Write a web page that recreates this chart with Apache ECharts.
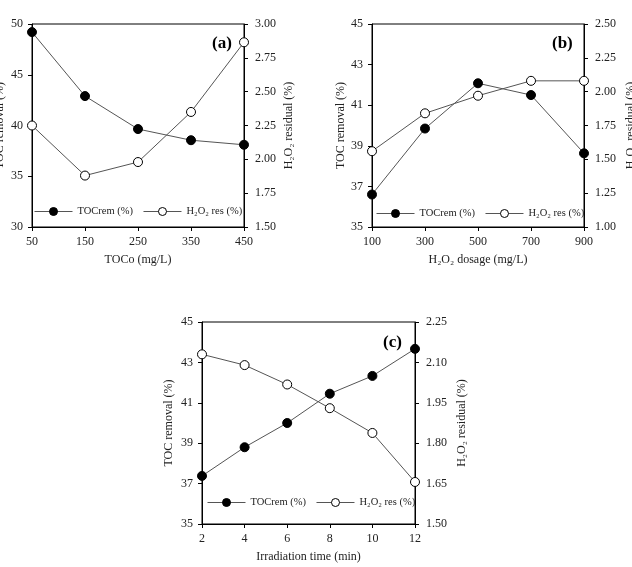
<!DOCTYPE html>
<html>
<head>
<meta charset="utf-8">
<script src="https://cdn.jsdelivr.net/npm/echarts@6/dist/echarts.min.js"></script>
<style>
  html, body { margin: 0; padding: 0; background: #fff; }
  #main { width: 632px; height: 567px; }
</style>
</head>
<body>
<div id="main"></div>
<script>
// (a) effect of initial TOC
const tocoLabels = ['50', '150', '250', '350', '450'];
const tocRemA = [49.2, 42.9, 39.65, 38.55, 38.1];
const h2o2ResA = [2.25, 1.88, 1.98, 2.35, 2.865];

// (b) effect of H2O2 dosage
const dosageLabels = ['100', '300', '500', '700', '900'];
const tocRemB = [36.6, 39.85, 42.08, 41.5, 38.63];
const h2o2ResB = [1.56, 1.84, 1.97, 2.08, 2.08];

// (c) effect of irradiation time
const timeLabels = ['2', '4', '6', '8', '10', '12'];
const tocRemC = [37.38, 38.8, 40.0, 41.45, 42.33, 43.67];
const h2o2ResC = [2.13, 2.09, 2.018, 1.93, 1.838, 1.656];

const FONT = '"Liberation Serif", "Times New Roman", serif';
const TOC_NAME = 'TOCrem (%)';
const RES_NAME = 'H₂O₂ res (%)';

function xAxisOf(gridIndex, cats, name) {
  return {
    type: 'category', gridIndex: gridIndex, data: cats, boundaryGap: false,
    name: name, nameLocation: 'middle', nameGap: 27,
    nameTextStyle: { fontFamily: FONT, fontSize: 12, color: '#222' },
    axisLine: { lineStyle: { color: '#000', width: 1 } },
    axisTick: { inside: false, length: 4, alignWithLabel: true, lineStyle: { color: '#000' } },
    axisLabel: { fontFamily: FONT, fontSize: 12, color: '#222', margin: 9 },
    splitLine: { show: false }
  };
}

function yAxisOf(gridIndex, pos, min, max, interval, digits, name, gap) {
  return {
    type: 'value', gridIndex: gridIndex, position: pos,
    min: min, max: max, interval: interval,
    name: name, nameLocation: 'middle', nameGap: gap, nameRotate: 90,
    nameTextStyle: { fontFamily: FONT, fontSize: 12, color: '#222' },
    axisLine: { show: true, lineStyle: { color: '#000', width: 1 } },
    axisTick: { show: true, inside: false, length: 4, lineStyle: { color: '#000' } },
    axisLabel: {
      fontFamily: FONT, fontSize: 12, color: '#222', margin: pos === 'left' ? 9 : 11,
      formatter: v => v.toFixed(digits)
    },
    splitLine: { show: false }
  };
}

function tocSeries(idx, data) {
  return {
    name: TOC_NAME, type: 'line', xAxisIndex: idx, yAxisIndex: idx * 2, data: data,
    symbol: 'circle', symbolSize: 9,
    lineStyle: { color: '#555', width: 1 },
    itemStyle: { color: '#000', borderColor: '#000', borderWidth: 1 },
    animation: false
  };
}

function resSeries(idx, data) {
  return {
    name: RES_NAME, type: 'line', xAxisIndex: idx, yAxisIndex: idx * 2 + 1, data: data,
    symbol: 'circle', symbolSize: 9,
    lineStyle: { color: '#555', width: 1 },
    itemStyle: { color: '#fff', borderColor: '#000', borderWidth: 1 },
    animation: false
  };
}

function legendOf(left, top) {
  return {
    left: left, top: top, orient: 'horizontal', padding: 0,
    data: [TOC_NAME, RES_NAME],
    itemWidth: 38, itemHeight: 10, itemGap: 10,
    lineStyle: { width: 1 },
    itemStyle: { borderWidth: 1 },
    textStyle: { fontFamily: FONT, fontSize: 10.5, color: '#222' },
    selectedMode: false
  };
}

function panelTag(text, x, y) {
  return {
    type: 'text', left: x, top: y,
    style: { text: text, font: 'bold 17px ' + FONT, fill: '#000' }
  };
}

function gridOf(left, top, width, height) {
  return {
    left: left, top: top, width: width, height: height,
    outerBoundsMode: 'none', containLabel: false,
    show: true, borderColor: '#000', borderWidth: 1
  };
}

const chart = echarts.init(document.getElementById('main'), null, { renderer: 'canvas' });

const option = {
  backgroundColor: '#fff',
  animation: false,
  grid: [
    gridOf(32, 24, 212, 203),
    gridOf(372, 24, 212, 203),
    gridOf(202, 322, 213, 202)
  ],
  xAxis: [
    xAxisOf(0, tocoLabels, 'TOCo (mg/L)'),
    xAxisOf(1, dosageLabels, 'H₂O₂ dosage (mg/L)'),
    xAxisOf(2, timeLabels, 'Irradiation time (min)')
  ],
  yAxis: [
    yAxisOf(0, 'left', 30, 50, 5, 0, 'TOC removal (%)', 26),
    yAxisOf(0, 'right', 1.5, 3, 0.25, 2, 'H₂O₂ residual (%)', 39),
    yAxisOf(1, 'left', 35, 45, 2, 0, 'TOC removal (%)', 25),
    yAxisOf(1, 'right', 1, 2.5, 0.25, 2, 'H₂O₂ residual (%)', 41),
    yAxisOf(2, 'left', 35, 45, 2, 0, 'TOC removal (%)', 27),
    yAxisOf(2, 'right', 1.5, 2.25, 0.15, 2, 'H₂O₂ residual (%)', 41)
  ],
  legend: [
    legendOf(34, 206),
    legendOf(376, 208),
    legendOf(207, 497)
  ],
  series: [
    tocSeries(0, tocRemA), resSeries(0, h2o2ResA),
    tocSeries(1, tocRemB), resSeries(1, h2o2ResB),
    tocSeries(2, tocRemC), resSeries(2, h2o2ResC)
  ],
  graphic: [
    panelTag('(a)', 212, 35),
    panelTag('(b)', 552, 35),
    panelTag('(c)', 383, 334)
  ]
};

chart.setOption(option);
</script>
</body>
</html>
